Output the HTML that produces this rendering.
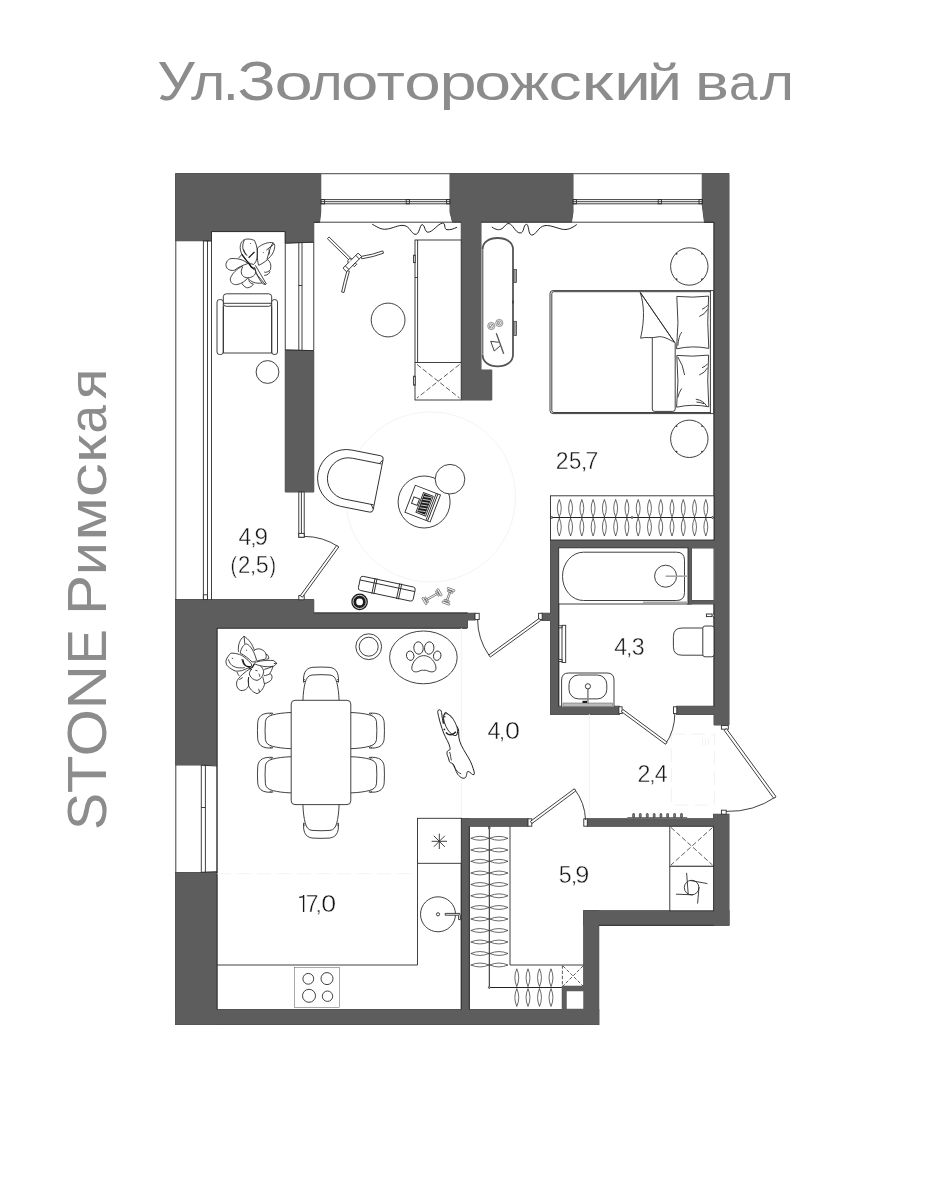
<!DOCTYPE html>
<html lang="ru"><head><meta charset="utf-8"><title>STONE Римская — Ул.Золоторожский вал</title>
<style>
html,body{margin:0;padding:0;background:#fff}
body{width:952px;height:1200px;overflow:hidden;font-family:"Liberation Sans",sans-serif}
svg{display:block}
.w{fill:#5d5d5d;stroke:none}
.ws{fill:#4a4a4a;stroke:#4a4a4a;stroke-width:1}
.wh{fill:#fff;stroke:none}
.l{fill:none;stroke:#2b2b2b;stroke-width:.9}
.lk{fill:none;stroke:#222;stroke-width:1}
.lt{fill:none;stroke:#555;stroke-width:.5}
.lw{fill:#fff;stroke:#2b2b2b;stroke-width:.9}
.lg{fill:none;stroke:#6a6a6a;stroke-width:1.1}
.ld{fill:none;stroke:#333;stroke-width:.8;stroke-dasharray:5 2.4}
.lf{fill:none;stroke:#f0f0f0;stroke-width:.8}
.lff{fill:none;stroke:#efefef;stroke-width:.8}
.lwh{fill:none;stroke:#fff;stroke-width:.7}
.blk{fill:#1c1c1c;stroke:none}
.ringw{fill:none;stroke:#fff;stroke-width:.8}
.dot{fill:#333;stroke:none}
.gl{fill:none;stroke:#a6a6a6;stroke-width:1.6}
.gl2{fill:none;stroke:#777;stroke-width:1.3}
.lk2{fill:none;stroke:#888;stroke-width:1.6}
.lkw{fill:#fff;stroke:#222;stroke-width:1}
.lfd{fill:none;stroke:#efefef;stroke-width:.8;stroke-dasharray:14 6}
.ld2{fill:none;stroke:#333;stroke-width:.8;stroke-dasharray:3.4 1.8}
.hook{fill:#888;stroke:#333;stroke-width:.7}
.pl{fill:none;stroke:#222;stroke-width:10}
.plk{fill:none;stroke:#111;stroke-width:14}
.lh{fill:none;stroke:#2a2a2a;stroke-width:.7}
.ls{fill:#fff;stroke:#3a3a3a;stroke-width:.55}
.cons{fill:none;stroke:#555;stroke-width:1.8}
.hnd{fill:#a0a0a0;stroke:#333;stroke-width:.7}
.cons2{fill:none;stroke:#555;stroke-width:1.3}
.lk3{fill:none;stroke:#222;stroke-width:1.5}
.gry{fill:#bdbdbd;stroke:#555;stroke-width:.5}
.num{font-family:"Liberation Sans",sans-serif;font-size:23.6px;fill:#161616;stroke:#fff;stroke-width:.42}
.one{fill:none;stroke:#161616;stroke-width:1.35}
.ttl{font-family:"Liberation Sans",sans-serif;font-size:55px;fill:#8c8c8c}
</style></head>
<body>
<svg width="952" height="1200" viewBox="0 0 952 1200">
<rect x="0" y="0" width="952" height="1200" fill="#fff"/>
<g id="walls">
<polygon class="ws" points="175.5,173.5 320.75,173.5 320.75,212 319.5,222.5 313.75,222.5 313.75,242 285.25,243 285.25,231.5 211.5,231.5 211.5,240.75 175.5,240.75"/>
<polygon class="ws" points="285.25,350 313.75,350.7 313.75,492 285.25,492"/>
<polygon class="ws" points="450,173.5 573,173.5 573,212 571.5,222 481,222 481,370 491.75,370 491.75,400 461.25,400 461.25,222 452.5,222 450,212"/>
<polygon class="ws" points="702.25,173.5 729,173.5 729,725 714,725 714,222.5 704.5,222.5 702.25,205"/>
<rect class="ws" x="713.5" y="814.25" width="15.5" height="110.75"/>
<polygon class="ws" points="175.5,599.5 313.75,599.5 313.75,613 467.5,613 467.5,628 217,628 217,765 175.5,765"/>
<rect class="ws" x="467" y="613.25" width="8" height="6.75"/>
<rect class="ws" x="175.5" y="872.5" width="41.5" height="152"/>
<rect class="ws" x="175.5" y="1009.5" width="423.25" height="15"/>
<rect class="ws" x="461.25" y="818.75" width="8" height="191.25"/>
<rect class="ws" x="461.25" y="818.75" width="66.75" height="7.5"/>
<rect class="ws" x="587.25" y="818.75" width="126.75" height="7.5"/>
<rect class="ws" x="583.75" y="910.75" width="145.25" height="14.5"/>
<rect class="ws" x="583.75" y="910.75" width="15" height="113.75"/>
<rect class="ws" x="562.25" y="986.25" width="21.75" height="23.75"/>
<rect class="ws" x="550.5" y="540" width="164" height="8"/>
<rect class="ws" x="550.5" y="540" width="8.25" height="174.5"/>
<rect class="ws" x="550.5" y="706.25" width="68.75" height="8.25"/>
<rect class="ws" x="676.75" y="706.25" width="37.75" height="8.25"/>
<rect class="ws" x="541.75" y="613.25" width="9.25" height="7.25"/>
<rect class="ws" x="688" y="548" width="3.5" height="56"/>
<rect class="ws" x="688" y="600.5" width="26.5" height="3.5"/>
<polygon class="w" points="175.5,173.5 320.75,173.5 320.75,212 319.5,222.5 313.75,222.5 313.75,242 285.25,243 285.25,231.5 211.5,231.5 211.5,240.75 175.5,240.75"/>
<polygon class="w" points="285.25,350 313.75,350.7 313.75,492 285.25,492"/>
<polygon class="w" points="450,173.5 573,173.5 573,212 571.5,222 481,222 481,370 491.75,370 491.75,400 461.25,400 461.25,222 452.5,222 450,212"/>
<polygon class="w" points="702.25,173.5 729,173.5 729,725 714,725 714,222.5 704.5,222.5 702.25,205"/>
<rect class="w" x="713.5" y="814.25" width="15.5" height="110.75"/>
<polygon class="w" points="175.5,599.5 313.75,599.5 313.75,613 467.5,613 467.5,628 217,628 217,765 175.5,765"/>
<rect class="w" x="467" y="613.25" width="8" height="6.75"/>
<rect class="w" x="175.5" y="872.5" width="41.5" height="152"/>
<rect class="w" x="175.5" y="1009.5" width="423.25" height="15"/>
<rect class="w" x="461.25" y="818.75" width="8" height="191.25"/>
<rect class="w" x="461.25" y="818.75" width="66.75" height="7.5"/>
<rect class="w" x="587.25" y="818.75" width="126.75" height="7.5"/>
<rect class="w" x="583.75" y="910.75" width="145.25" height="14.5"/>
<rect class="w" x="583.75" y="910.75" width="15" height="113.75"/>
<rect class="w" x="562.25" y="986.25" width="21.75" height="23.75"/>
<rect class="wh" x="566.75" y="991.25" width="16.5" height="17.5"/>
<rect class="w" x="550.5" y="540" width="164" height="8"/>
<rect class="w" x="550.5" y="540" width="8.25" height="174.5"/>
<rect class="w" x="550.5" y="706.25" width="68.75" height="8.25"/>
<rect class="w" x="676.75" y="706.25" width="37.75" height="8.25"/>
<rect class="w" x="541.75" y="613.25" width="9.25" height="7.25"/>
<rect class="w" x="688" y="548" width="3.5" height="56"/>
<rect class="w" x="688" y="600.5" width="26.5" height="3.5"/>
</g>
<g id="struct">
<path class="lg" d="M320.5 173.6H450M573 173.6H702.5"/>
<path class="l" d="M321 199.6H450"/>
<path class="l" d="M321 201.7H450"/>
<path class="l" d="M321 203.8H450"/>
<rect class="l" x="321" y="199.6" width="3.6" height="4.2"/>
<rect class="l" x="406.2" y="199.6" width="3.2" height="4.2"/>
<rect class="l" x="446.6" y="199.6" width="3.4" height="4.2"/>
<path class="l" d="M573 199.6H702.3"/>
<path class="l" d="M573 201.7H702.3"/>
<path class="l" d="M573 203.8H702.3"/>
<rect class="l" x="573" y="199.6" width="3.4" height="4.2"/>
<rect class="l" x="658.2" y="199.6" width="3.2" height="4.2"/>
<rect class="l" x="699" y="199.6" width="3.3" height="4.2"/>
<path class="l" d="M313.75 222.2H461.25M481 222.2H714"/>
<path class="l" d="M313.75 242V350"/>
<path class="l" d="M175.8 240.7V600"/>
<path class="l" d="M203.4 240.7V600M207.5 240.7V600M211.5 231.5V600"/>
<path class="l" d="M203.4 240.9H211.5"/>
<path class="l" d="M211.5 231.6H285.25V350"/>
<path class="l" d="M298.8 243V350M302 243V350M298.8 285.5H302"/>
<path class="l" d="M285.25 243.2L313.75 242.2M285.25 350L313.75 350.6"/>
<path class="l" d="M175.8 765V872.5M217 765V872.5"/>
<path class="l" d="M201.3 765V872.5M205.4 765V872.5M201.3 807.5H205.4"/>
<path class="l" d="M201.3 765.2L217 766M201.3 872.3L217 871.6"/>
<path class="l" d="M217 628V1009.5M217 628.2H467"/>
<path class="l" d="M313.75 613H467.5"/>
<path class="l" d="M714 222V540"/>
</g>
<g id="living-top">
<g transform="translate(215 230) scale(0.08403)">
<path class="pl" d="M420 400C350 350 300 280 300 210C300 150 330 110 380 108C420 105 450 115 470 125C500 180 512 260 500 330C495 370 475 395 460 410Z"/>
<path class="pl" d="M350 120C318 180 322 250 380 305"/>
<path class="pl" d="M505 215C560 165 640 140 690 152C720 165 715 220 690 270C660 330 590 390 520 420C505 380 500 300 505 215Z"/>
<path class="pl" d="M690 152C655 200 640 280 618 350"/>
<path class="pl" d="M625 355C660 370 672 420 660 470C640 500 600 510 585 500"/>
<path class="pl" d="M585 540C620 540 650 520 655 490"/>
<path class="pl" d="M390 400C340 350 260 335 190 340C140 355 120 400 135 440C150 480 200 485 230 480C280 440 330 420 390 400Z"/>
<path class="pl" d="M330 430C260 460 200 520 182 580C180 630 220 655 260 650C320 640 370 600 390 570"/>
<path class="pl" d="M330 440C300 490 310 540 350 560C400 580 460 560 480 520C490 480 470 450 440 440"/>
<path class="pl" d="M320 635C340 670 370 690 390 688C420 685 450 660 460 640"/>
<path class="pl" d="M400 575C400 610 420 640 450 640"/>
<path class="pl" d="M410 590C440 630 520 640 560 630"/>
<path class="pl" d="M480 420L610 640C600 655 580 650 560 630C520 580 490 520 470 440"/>
<path class="pl" d="M490 520L600 650"/>
<path class="pl" d="M280 335L320 290M610 240L700 170M575 265L580 275M420 155L425 165"/>
<path class="pl" d="M340 230C350 260 365 285 380 300M640 230C650 255 650 275 640 295"/>
<path class="plk" d="M320 290L440 450"/>
<path class="plk" d="M400 330L470 262"/>
<path class="plk" d="M410 400L430 440L470 470"/>
</g>
<rect class="lw" x="223.3" y="293.8" width="48.4" height="12.5" rx="3"/>
<rect class="lw" x="217" y="299.6" width="6.3" height="54.9" rx="2.5"/>
<rect class="lw" x="271.7" y="299.6" width="5.8" height="54.9" rx="2.5"/>
<path class="l" d="M223.3 303.3H271.7M223.3 306.3V353H271.7V306.3"/>
<circle class="lw" cx="267.5" cy="372" r="11.4"/>
<path class="lw" d="M352.241 259.744L329.041 236.944L327.359 238.656L350.559 261.456Z"/>
<path class="lw" d="M361.2 256.4Q373 254.6 382.8 250.9L383.5 253.2Q373.6 257 361.8 258.8Z"/>
<path class="lw" d="M347 270.6Q343.8 282 341.6 292L344 292.5Q346.2 282.6 349.4 271.2Z"/>
<g transform="translate(352.3 262.4) rotate(-45)">
<rect class="lw" x="-10.7" y="-2.5" width="21.4" height="5"/>
<path class="l" d="M-7.4 -2.5V2.5M7.4 -2.5V2.5"/>
<rect class="lw" x="-1.6" y="2.5" width="3.4" height="1.9"/>
<path class="lw" d="M-3.4 -2.5L-1.8 -4.6L0.6 -4.6L2 -2.5"/>
</g>
<circle class="lw" cx="388.1" cy="320" r="16.9"/>
<rect class="lw" x="415" y="240" width="46.2" height="160"/>
<path class="l" d="M417.6 240V362.5M415 362.5H461.2"/>
<path class="ld" d="M417 364.5L459.5 398M459.5 364.5L417 398"/>
<rect class="lw" x="413.6" y="255.2" width="1.6" height="7.4"/>
<rect class="lw" x="413.6" y="376.2" width="1.6" height="9"/>
<path class="l" d="M415 277.5H417.6"/>
<path class="lk" d="M372.2 224.2C378 227.5 381 229.6 386 229.2C393 228.6 398 224.6 404.1 225.5C410 226.4 411 233.5 415 234.3C419.6 235.2 419.5 225 422 224.7C425 224.4 424.5 232 427.8 232.2C432.5 232.5 438 223.6 442.5 223.1C446 222.8 443.5 229.2 447 229.7C450.5 230.2 454 228.6 457.1 227.2"/>
<path class="lk" d="M491.8 227C496 229.8 499 230.6 502 228.6C505 226.6 506 223.2 509 223.6C513 224.2 515 232.5 520 233C524.5 233.4 523 224.6 526.5 224.3C529 224.1 528 234.5 531.5 235C536 235.6 538 226.5 545 225.6C552 224.8 560 230 566 229.5C570.5 229.1 574 226.5 576.8 224.5"/>
<path class="wh" d="M482.6 354.7C482.6 362 489 366.3 497.6 366.3C506 366.3 513 362 513 354.7V249.3C513 242 506 238 497.6 238C489 238 482.6 242 482.6 249.3Z"/>
<path class="cons" d="M482.6 354.7C482.6 362 489 366.3 497.6 366.3C506 366.3 513 362 513 354.7V249.3C513 242 506 238 497.6 238C489 238 482.6 242 482.6 249.3"/>
<path class="l" d="M482.8 249.3V354.7"/>
<rect class="hnd" x="513.8" y="269.4" width="2.7" height="13.2"/>
<rect class="hnd" x="513.8" y="321.3" width="2.7" height="14.3"/>
<path class="lk" d="M513 300.6V303.4"/>
<circle class="ls" cx="491.3" cy="326" r="3.6"/>
<circle class="ls" cx="491.3" cy="326" r="2.1"/>
<path class="lh" d="M490 327.4L492.6 324.6"/>
<circle class="ls" cx="499.3" cy="323" r="3.6"/>
<circle class="ls" cx="499.3" cy="323" r="2.1"/>
<path class="lh" d="M498.4 321.6Q500.6 323 498.4 324.4"/>
<path class="cons2" d="M496.3 333.3L503.7 353.7"/>
<path class="l" d="M490.7 341.3L498.7 342.3M490.7 341.3L494.3 351L500.4 345.6"/>
</g>
<g id="bedroom">
<circle class="lw" cx="689.3" cy="266.5" r="18.7"/>
<circle class="dot" cx="676.572" cy="253.772" r="0.9"/>
<circle class="dot" cx="702.028" cy="253.772" r="0.9"/>
<circle class="dot" cx="702.028" cy="279.228" r="0.9"/>
<circle class="dot" cx="676.572" cy="279.228" r="0.9"/>
<circle class="lw" cx="689.3" cy="438.8" r="18.7"/>
<circle class="dot" cx="676.572" cy="426.072" r="0.9"/>
<circle class="dot" cx="702.028" cy="426.072" r="0.9"/>
<circle class="dot" cx="702.028" cy="451.528" r="0.9"/>
<circle class="dot" cx="676.572" cy="451.528" r="0.9"/>
<path class="lw" d="M713.6 290.6H553Q550 290.6 550 293.6V410.6Q550 413.6 553 413.6H713.6Z"/>
<path class="l" d="M710.4 291.7H553.8Q551.8 291.7 551.8 293.7V410.5Q551.8 412.5 553.8 412.5H710.4"/>
<path class="l" d="M710.4 290.6V413.6"/>
<path class="lw" d="M640.3 292.5C644 305 645 318 640.6 338.2C646 336.5 652 338.6 657 337C663 335.5 669 339.5 674.6 342.4Z"/>
<path class="l" d="M640.3 292.5L674.6 342.4"/>
<path class="l" d="M652.3 338V409Q652.3 411.4 654.7 411.4H672.8Q675.2 411.4 675.2 409V342.6"/>
<path class="lw" d="M676.8 296.4Q692.7 298 708.6 296.1Q706.8 322.4 708.8 348.4Q692.7 345.2 676.6 348.8Q679.2 322.4 676.8 296.4Z"/>
<path class="l" d="M707.6 305.2Q705.6 308 702 309.2M707.6 309.2Q705 314.4 699.2 316.5M681.7 332.2Q678.6 336 677.8 345.7"/>
<path class="lw" d="M676.8 355.4Q692.7 357 708.6 355.1Q706.8 381.1 708.8 406.8Q692.7 403.6 676.6 407.2Q679.2 381.1 676.8 355.4Z"/>
<path class="l" d="M677.8 357Q683.2 365 684.6 375M707.6 363.7Q705.6 366.5 702 367.7M707.6 367.7Q705 372.9 699.2 375M681.7 388.5Q678.8 392.5 677.8 397.5M695.8 399.2Q703.4 400.4 706.5 405.9M696.4 402Q700.6 402.4 704.2 403.7"/>
<rect class="lw" x="550.5" y="495.8" width="163.5" height="44.2"/>
<path class="lk" d="M550.5 517.5H714"/>
<path class="lh" d="M559.3 499.5Q555.4 508.5 559.3 516.8Q563.2 508.5 559.3 499.5Z"/>
<path class="lh" d="M559.3 518.2Q555.4 527 559.3 536Q563.2 527 559.3 518.2Z"/>
<path class="lh" d="M570.57 499.5Q566.67 508.5 570.57 516.8Q574.47 508.5 570.57 499.5Z"/>
<path class="lh" d="M570.57 518.2Q566.67 527 570.57 536Q574.47 527 570.57 518.2Z"/>
<path class="lh" d="M581.84 499.5Q577.94 508.5 581.84 516.8Q585.74 508.5 581.84 499.5Z"/>
<path class="lh" d="M581.84 518.2Q577.94 527 581.84 536Q585.74 527 581.84 518.2Z"/>
<path class="lh" d="M593.11 499.5Q589.21 508.5 593.11 516.8Q597.01 508.5 593.11 499.5Z"/>
<path class="lh" d="M593.11 518.2Q589.21 527 593.11 536Q597.01 527 593.11 518.2Z"/>
<path class="lh" d="M604.38 499.5Q600.48 508.5 604.38 516.8Q608.28 508.5 604.38 499.5Z"/>
<path class="lh" d="M604.38 518.2Q600.48 527 604.38 536Q608.28 527 604.38 518.2Z"/>
<path class="lh" d="M615.65 499.5Q611.75 508.5 615.65 516.8Q619.55 508.5 615.65 499.5Z"/>
<path class="lh" d="M615.65 518.2Q611.75 527 615.65 536Q619.55 527 615.65 518.2Z"/>
<path class="lh" d="M626.92 499.5Q623.02 508.5 626.92 516.8Q630.82 508.5 626.92 499.5Z"/>
<path class="lh" d="M626.92 518.2Q623.02 527 626.92 536Q630.82 527 626.92 518.2Z"/>
<path class="lh" d="M638.19 499.5Q634.29 508.5 638.19 516.8Q642.09 508.5 638.19 499.5Z"/>
<path class="lh" d="M638.19 518.2Q634.29 527 638.19 536Q642.09 527 638.19 518.2Z"/>
<path class="lh" d="M649.46 499.5Q645.56 508.5 649.46 516.8Q653.36 508.5 649.46 499.5Z"/>
<path class="lh" d="M649.46 518.2Q645.56 527 649.46 536Q653.36 527 649.46 518.2Z"/>
<path class="lh" d="M660.73 499.5Q656.83 508.5 660.73 516.8Q664.63 508.5 660.73 499.5Z"/>
<path class="lh" d="M660.73 518.2Q656.83 527 660.73 536Q664.63 527 660.73 518.2Z"/>
<path class="lh" d="M672 499.5Q668.1 508.5 672 516.8Q675.9 508.5 672 499.5Z"/>
<path class="lh" d="M672 518.2Q668.1 527 672 536Q675.9 527 672 518.2Z"/>
<path class="lh" d="M683.27 499.5Q679.37 508.5 683.27 516.8Q687.17 508.5 683.27 499.5Z"/>
<path class="lh" d="M683.27 518.2Q679.37 527 683.27 536Q687.17 527 683.27 518.2Z"/>
<path class="lh" d="M694.54 499.5Q690.64 508.5 694.54 516.8Q698.44 508.5 694.54 499.5Z"/>
<path class="lh" d="M694.54 518.2Q690.64 527 694.54 536Q698.44 527 694.54 518.2Z"/>
<path class="lh" d="M705.81 499.5Q701.91 508.5 705.81 516.8Q709.71 508.5 705.81 499.5Z"/>
<path class="lh" d="M705.81 518.2Q701.91 527 705.81 536Q709.71 527 705.81 518.2Z"/>
<circle class="lw" cx="551.8" cy="517.5" r="0.9"/>
<circle class="lw" cx="632" cy="517.5" r="0.9"/>
<circle class="lw" cx="712.6" cy="517.5" r="0.9"/>
</g>
<g id="living-bottom">
<circle class="lf" cx="430.5" cy="497" r="85"/>
<g transform="translate(349.2 478.8) rotate(11.2)">
<path class="lw" d="M-3 -28.7H26.5Q29.5 -28.7 29.5 -25.7V25.7Q29.5 28.7 26.5 28.7H-3A28.7 28.7 0 0 1 -3 -28.7Z"/>
<path class="l" d="M29 -20.8H-1A20.8 20.8 0 0 0 -1 20.8H29"/>
<path class="l" d="M29.5 -25L26.5 -20.8M29.5 25L26.5 20.8"/>
</g>
<circle class="lw" cx="424.1" cy="502" r="26"/>
<circle class="lw" cx="450" cy="479.2" r="14.8"/>
<g transform="translate(422.7 503.6) rotate(21)">
<rect class="lw" x="-13.5" y="-14.5" width="27" height="29"/>
<path class="l" d="M9 -14.5V14.5M10.8 -14.5V14.5"/>
<rect class="lw" x="-3.2" y="-10.6" width="10.4" height="21.2"/>
<rect class="blk" x="-2.2" y="-9.6" width="8.4" height="19.2"/>
<path class="lwh" d="M-1.5 -7L5.5 -8.5M-1.5 -4L5.5 -5.5M-1.5 -1L5.5 -2.5M-1.5 2L5.5 0.5M-1.5 5L5.5 3.5M-1.5 8L5.5 6.5"/>
<rect class="lw" x="-10.6" y="-3.2" width="6" height="6.8"/>
</g>
<g transform="translate(386.8 588.7) rotate(12)">
<rect class="lw" x="-28" y="-7.2" width="56" height="14.4" rx="2.5"/>
<path class="l" d="M-28 -3H28"/>
<path class="l" d="M-13.6 -8V8M-11.6 -8V8M11.6 -8V8M13.6 -8V8"/>
</g>
<circle class="blk" cx="359.6" cy="601.9" r="8.3"/>
<circle class="ringw" cx="359.6" cy="601.9" r="6.6"/>
<circle class="wh" cx="359.6" cy="601.9" r="3.4"/>
<g transform="translate(424.6 601) rotate(-30.4486)">
<rect class="ls" x="0" y="-0.8" width="17.1677" height="1.6"/>
<rect class="ls" x="-1" y="-4" width="1.8" height="8" rx="0.6"/>
<rect class="ls" x="1.6" y="-3" width="1.4" height="6" rx="0.5"/>
<rect class="ls" x="16.3677" y="-4" width="1.8" height="8" rx="0.6"/>
<rect class="ls" x="14.1677" y="-3" width="1.4" height="6" rx="0.5"/>
</g>
<g transform="translate(446 603) rotate(-69.5377)">
<rect class="ls" x="0" y="-0.8" width="14.3024" height="1.6"/>
<rect class="ls" x="-1" y="-4" width="1.8" height="8" rx="0.6"/>
<rect class="ls" x="1.6" y="-3" width="1.4" height="6" rx="0.5"/>
<rect class="ls" x="13.5024" y="-4" width="1.8" height="8" rx="0.6"/>
<rect class="ls" x="11.3024" y="-3" width="1.4" height="6" rx="0.5"/>
</g>
</g>
<g id="bath">
<rect class="lw" x="558.7" y="547.8" width="129.3" height="56.2"/>
<path class="lw" d="M583.5 552.2H676.5Q684.5 552.2 684.5 560.2V592.5Q684.5 600.5 676.5 600.5H583.5A21 24.15 0 0 1 583.5 552.2Z"/>
<circle class="lw" cx="665.6" cy="576.2" r="11"/>
<path class="gl" d="M665.6 576.2H688"/>
<path class="gl" d="M643 602.3H688"/>
<path class="l" d="M558.7 604V706.5M714 604V706.5"/>
<rect class="lw" x="562" y="625.3" width="3.7" height="37.2"/>
<rect class="lw" x="558.7" y="625.8" width="3.3" height="2"/>
<rect class="lw" x="558.7" y="659.6" width="3.3" height="2"/>
<path class="lw" d="M703.4 628H682Q673.4 628 673.4 636.5V646.7Q673.4 655.2 682 655.2H703.4Z"/>
<rect class="lw" x="702.8" y="626" width="11.2" height="30.8" rx="2.2"/>
<rect class="lw" x="706.4" y="614" width="5.6" height="2.6"/>
<path class="lw" d="M714 612.6Q711.8 615.3 714 618.6"/>
<path class="lw" d="M561.6 706.6V680Q561.6 673 568.6 673H607Q614 673 614 680V706.6"/>
<rect class="lw" x="569" y="675" width="37.8" height="23.9" rx="9.5"/>
<rect class="gry" x="563" y="703" width="49.5" height="3.2"/>
<path class="lk2" d="M587.9 688V703.6"/>
<circle class="lw" cx="587.9" cy="686.3" r="2.6"/>
<rect class="blk" x="582.5" y="700.8" width="4.5" height="2.2"/>
</g>
<g id="kitchen">
<path class="lff" d="M461.3 628V818"/>
<path class="lff" d="M589.3 714V818"/>
<path class="lfd" d="M217 873.7H417.5"/>
<g transform="translate(215 630) scale(0.08403)">
<path class="pl" d="M280 260C270 180 295 110 345 75C400 105 450 175 470 250"/>
<path class="pl" d="M345 75C350 105 352 135 355 165"/>
<path class="pl" d="M300 275C310 215 340 170 375 165C420 180 465 250 495 360C480 375 460 380 440 380C400 340 350 300 300 275Z"/>
<path class="pl" d="M470 240C510 210 570 225 600 270C615 300 610 330 600 348C570 350 530 360 500 370"/>
<path class="pl" d="M605 290C625 285 640 310 640 340L612 350"/>
<path class="pl" d="M470 388C520 370 600 355 700 365L735 395C720 420 700 430 690 432C640 440 560 442 470 402"/>
<path class="pl" d="M735 395L700 400"/>
<path class="pl" d="M190 275C160 300 135 340 130 370C130 400 140 420 150 430C180 460 220 480 250 490C280 490 310 485 330 480C380 460 420 440 440 420C430 395 400 365 380 350C350 320 320 300 290 290C260 280 225 275 190 275Z"/>
<path class="pl" d="M160 350C170 390 190 410 200 420C230 440 260 450 290 450C320 452 340 450 355 448"/>
<path class="pl" d="M420 460C390 480 355 500 330 525C290 565 265 590 258 620C250 660 265 700 300 718C330 725 360 715 375 700C395 685 400 665 400 640C395 610 395 585 400 560"/>
<path class="pl" d="M400 560C395 600 395 630 400 660C415 700 440 735 500 758C540 745 575 700 590 650C580 610 575 585 570 560"/>
<path class="pl" d="M430 470C410 500 405 520 412 535C425 570 460 595 500 600C540 590 570 555 580 500C575 465 560 440 540 430"/>
<path class="pl" d="M580 545C610 540 640 530 660 520C680 540 685 560 672 590C655 615 620 630 585 640"/>
<path class="pl" d="M585 470C620 460 660 445 690 432C680 470 665 500 650 520"/>
<path class="pl" d="M320 345C325 380 340 410 355 425"/>
<path class="pl" d="M262 500C270 520 280 540 290 548M290 590L330 565M520 700L530 740M200 335L215 340M370 240L382 243M480 480L505 485M520 520C530 530 535 540 530 555"/>
<path class="plk" d="M330 350C335 385 345 410 370 430"/>
<path class="plk" d="M370 430L445 445L470 400"/>
<path class="plk" d="M400 450L440 470"/>
</g>
<circle class="lw" cx="368.7" cy="646.7" r="12.9"/>
<circle class="l" cx="368.7" cy="646.7" r="9.5"/>
<ellipse class="lw" cx="423.4" cy="657.4" rx="33.8" ry="26.4"/>
<ellipse class="l" cx="410.2" cy="655.7" rx="3.7" ry="4.7" transform="rotate(-12 410.2 655.7)"/>
<ellipse class="l" cx="437.2" cy="655.7" rx="3.7" ry="4.7" transform="rotate(12 437.2 655.7)"/>
<ellipse class="l" cx="418.5" cy="648" rx="4.7" ry="6.2" transform="rotate(-5 418.5 648)"/>
<ellipse class="l" cx="429.2" cy="648" rx="4.7" ry="6.2" transform="rotate(5 429.2 648)"/>
<path class="l" d="M423.8 655.6C430.5 655.6 435.8 662.5 436 668C436.1 671.6 432.5 672.4 429.8 671.6C427 670.8 425.5 669.6 423.8 670.4C422 669.6 420.5 670.8 417.8 671.6C415.2 672.4 411.6 671.6 411.8 668C412 662.5 417.2 655.6 423.8 655.6Z"/>
<path class="lkw" d="M438.3 710.2C439.8 709 441.4 710.2 441.6 712.5C442 716.5 442.6 720 443.3 723.5C443.6 720 443.2 715 445 712.6C447 712 448.6 714.6 449.6 717.4C450.6 720.4 452.8 722.6 455.3 724.8C458.4 727 458.9 730.5 458.7 734C458.4 739 460.6 744.6 463.6 749.6C467 755.6 470.6 760.6 472.2 765.6C473.4 769.6 475.2 773.4 474 774.6C472.2 775.4 470.6 772 468.2 771.4C466.4 771.2 467.2 775.2 465.6 777.4C463.6 779.4 460.2 777.6 457.8 774.4C455 770.6 455.2 765.6 452.6 763.6C451 762.4 449.6 763.4 449 760C448.4 756.4 446 754.4 447.2 751.6C448.4 749.2 450.4 751.6 450 747.6C449.2 743 445.6 738 443.6 733C441.4 727 439.6 721 438.6 716.4C438 713.6 437.2 711.2 438.3 710.2Z"/>
<path class="l" d="M452.6 763.6C454.6 768 457 772.4 461.2 773.8M449.6 752C450.8 755 450.6 758 451.4 760.4"/>
<ellipse class="lw" cx="450.6" cy="724.6" rx="12" ry="5" transform="rotate(63 450.6 724.6)"/>
<path class="lk3" d="M445.9 732.4Q450.6 737.6 456 731.8"/>
<circle class="dot" cx="444.8" cy="716.8" r="0.8"/>
<circle class="dot" cx="444.4" cy="729.4" r="0.9"/>
<g transform="translate(321 667) rotate(0)">
<path class="lw" d="M-18.1 33.8C-17.8 26 -17 20 -15.75 15.3C-14.5 11 -13 8.6 -9 8Q0 7.3 9 8C13 8.6 14.5 11 15.75 15.3C17 20 17.8 26 18.1 33.8"/>
<path class="l" d="M-17.4 15.3C-17.8 11 -17.2 6 -15 3.5C-13 1.3 -10.5 0.5 -8 0.3Q0 -0.2 8 0.3C10.5 0.5 13 1.3 15 3.5C17.2 6 17.8 11 17.4 15.3"/>
<path class="l" d="M-17.4 15.3L-15.9 14M17.4 15.3L15.9 14M-17.6 13.4L-16.2 12.4M17.6 13.4L16.2 12.4"/>
</g>
<g transform="translate(321 838.4) rotate(180)">
<path class="lw" d="M-18.1 33.8C-17.8 26 -17 20 -15.75 15.3C-14.5 11 -13 8.6 -9 8Q0 7.3 9 8C13 8.6 14.5 11 15.75 15.3C17 20 17.8 26 18.1 33.8"/>
<path class="l" d="M-17.4 15.3C-17.8 11 -17.2 6 -15 3.5C-13 1.3 -10.5 0.5 -8 0.3Q0 -0.2 8 0.3C10.5 0.5 13 1.3 15 3.5C17.2 6 17.8 11 17.4 15.3"/>
<path class="l" d="M-17.4 15.3L-15.9 14M17.4 15.3L15.9 14M-17.6 13.4L-16.2 12.4M17.6 13.4L16.2 12.4"/>
</g>
<g transform="translate(257.4 730.6) rotate(-90)">
<path class="lw" d="M-18.1 33.8C-17.8 26 -17 20 -15.75 15.3C-14.5 11 -13 8.6 -9 8Q0 7.3 9 8C13 8.6 14.5 11 15.75 15.3C17 20 17.8 26 18.1 33.8"/>
<path class="l" d="M-17.4 15.3C-17.8 11 -17.2 6 -15 3.5C-13 1.3 -10.5 0.5 -8 0.3Q0 -0.2 8 0.3C10.5 0.5 13 1.3 15 3.5C17.2 6 17.8 11 17.4 15.3"/>
<path class="l" d="M-17.4 15.3L-15.9 14M17.4 15.3L15.9 14M-17.6 13.4L-16.2 12.4M17.6 13.4L16.2 12.4"/>
</g>
<g transform="translate(257.4 774.8) rotate(-90)">
<path class="lw" d="M-18.1 33.8C-17.8 26 -17 20 -15.75 15.3C-14.5 11 -13 8.6 -9 8Q0 7.3 9 8C13 8.6 14.5 11 15.75 15.3C17 20 17.8 26 18.1 33.8"/>
<path class="l" d="M-17.4 15.3C-17.8 11 -17.2 6 -15 3.5C-13 1.3 -10.5 0.5 -8 0.3Q0 -0.2 8 0.3C10.5 0.5 13 1.3 15 3.5C17.2 6 17.8 11 17.4 15.3"/>
<path class="l" d="M-17.4 15.3L-15.9 14M17.4 15.3L15.9 14M-17.6 13.4L-16.2 12.4M17.6 13.4L16.2 12.4"/>
</g>
<g transform="translate(384.5 730.6) rotate(90)">
<path class="lw" d="M-18.1 33.8C-17.8 26 -17 20 -15.75 15.3C-14.5 11 -13 8.6 -9 8Q0 7.3 9 8C13 8.6 14.5 11 15.75 15.3C17 20 17.8 26 18.1 33.8"/>
<path class="l" d="M-17.4 15.3C-17.8 11 -17.2 6 -15 3.5C-13 1.3 -10.5 0.5 -8 0.3Q0 -0.2 8 0.3C10.5 0.5 13 1.3 15 3.5C17.2 6 17.8 11 17.4 15.3"/>
<path class="l" d="M-17.4 15.3L-15.9 14M17.4 15.3L15.9 14M-17.6 13.4L-16.2 12.4M17.6 13.4L16.2 12.4"/>
</g>
<g transform="translate(384.5 774.8) rotate(90)">
<path class="lw" d="M-18.1 33.8C-17.8 26 -17 20 -15.75 15.3C-14.5 11 -13 8.6 -9 8Q0 7.3 9 8C13 8.6 14.5 11 15.75 15.3C17 20 17.8 26 18.1 33.8"/>
<path class="l" d="M-17.4 15.3C-17.8 11 -17.2 6 -15 3.5C-13 1.3 -10.5 0.5 -8 0.3Q0 -0.2 8 0.3C10.5 0.5 13 1.3 15 3.5C17.2 6 17.8 11 17.4 15.3"/>
<path class="l" d="M-17.4 15.3L-15.9 14M17.4 15.3L15.9 14M-17.6 13.4L-16.2 12.4M17.6 13.4L16.2 12.4"/>
</g>
<rect class="lw" x="291.2" y="700.3" width="59.6" height="104.3" rx="3.8"/>
<rect class="lw" x="417.5" y="818.3" width="43.8" height="45"/>
<path class="l" d="M439.3 833.6V849M431.6 841.3H447M433.8 835.8L444.8 846.8M444.8 835.8L433.8 846.8"/>
<path class="l" d="M417.5 863.3V965H217"/>
<path class="l" d="M461.3 863.3V1009.5"/>
<circle class="lw" cx="438" cy="914.3" r="17.5"/>
<circle class="l" cx="438" cy="914.3" r="1.6"/>
<path class="lw" d="M445.2 913.4H459.8V915.2H445.2Z"/>
<path class="lw" d="M458.6 915.2V919.6H460.4V915.2"/>
<rect class="lt" x="294.6" y="967.6" width="44.8" height="39.8"/>
<circle class="l" cx="308.3" cy="978.8" r="5.4"/>
<circle class="l" cx="327" cy="978.6" r="6"/>
<circle class="l" cx="309" cy="995.8" r="6.5"/>
<circle class="l" cx="327.5" cy="996.2" r="5.2"/>
</g>
<g id="closet">
<path class="l" d="M469.3 826.3V1009.5M598.8 925.3H714"/>
<path class="lk" d="M489.3 826.3V987.5H561.8"/>
<circle class="lw" cx="489.3" cy="828" r="0.9"/>
<circle class="lw" cx="489.3" cy="987.5" r="0.9"/>
<path class="lh" d="M470.8 838.3Q480 834.4 489 838.3Q480 842.2 470.8 838.3Z"/>
<path class="lh" d="M489.8 838.3Q499 834.4 508 838.3Q499 842.2 489.8 838.3Z"/>
<path class="lh" d="M470.8 850Q480 846.1 489 850Q480 853.9 470.8 850Z"/>
<path class="lh" d="M489.8 850Q499 846.1 508 850Q499 853.9 489.8 850Z"/>
<path class="lh" d="M470.8 861.3Q480 857.4 489 861.3Q480 865.2 470.8 861.3Z"/>
<path class="lh" d="M489.8 861.3Q499 857.4 508 861.3Q499 865.2 489.8 861.3Z"/>
<path class="lh" d="M470.8 873Q480 869.1 489 873Q480 876.9 470.8 873Z"/>
<path class="lh" d="M489.8 873Q499 869.1 508 873Q499 876.9 489.8 873Z"/>
<path class="lh" d="M470.8 884.5Q480 880.6 489 884.5Q480 888.4 470.8 884.5Z"/>
<path class="lh" d="M489.8 884.5Q499 880.6 508 884.5Q499 888.4 489.8 884.5Z"/>
<path class="lh" d="M470.8 895.8Q480 891.9 489 895.8Q480 899.7 470.8 895.8Z"/>
<path class="lh" d="M489.8 895.8Q499 891.9 508 895.8Q499 899.7 489.8 895.8Z"/>
<path class="lh" d="M470.8 907.5Q480 903.6 489 907.5Q480 911.4 470.8 907.5Z"/>
<path class="lh" d="M489.8 907.5Q499 903.6 508 907.5Q499 911.4 489.8 907.5Z"/>
<path class="lh" d="M470.8 919Q480 915.1 489 919Q480 922.9 470.8 919Z"/>
<path class="lh" d="M489.8 919Q499 915.1 508 919Q499 922.9 489.8 919Z"/>
<path class="lh" d="M470.8 930.5Q480 926.6 489 930.5Q480 934.4 470.8 930.5Z"/>
<path class="lh" d="M489.8 930.5Q499 926.6 508 930.5Q499 934.4 489.8 930.5Z"/>
<path class="lh" d="M470.8 942Q480 938.1 489 942Q480 945.9 470.8 942Z"/>
<path class="lh" d="M489.8 942Q499 938.1 508 942Q499 945.9 489.8 942Z"/>
<path class="lh" d="M470.8 953.5Q480 949.6 489 953.5Q480 957.4 470.8 953.5Z"/>
<path class="lh" d="M489.8 953.5Q499 949.6 508 953.5Q499 957.4 489.8 953.5Z"/>
<path class="lh" d="M470.8 965Q480 961.1 489 965Q480 968.9 470.8 965Z"/>
<path class="lh" d="M489.8 965Q499 961.1 508 965Q499 968.9 489.8 965Z"/>
<path class="l" d="M510 826.3V965H583.5"/>
<path class="lh" d="M516.8 968.8Q512.9 977.5 516.8 986.6Q520.7 977.5 516.8 968.8Z"/>
<path class="lh" d="M516.8 988.6Q512.9 997.5 516.8 1006.4Q520.7 997.5 516.8 988.6Z"/>
<path class="lh" d="M528 968.8Q524.1 977.5 528 986.6Q531.9 977.5 528 968.8Z"/>
<path class="lh" d="M528 988.6Q524.1 997.5 528 1006.4Q531.9 997.5 528 988.6Z"/>
<path class="lh" d="M539.5 968.8Q535.6 977.5 539.5 986.6Q543.4 977.5 539.5 968.8Z"/>
<path class="lh" d="M539.5 988.6Q535.6 997.5 539.5 1006.4Q543.4 997.5 539.5 988.6Z"/>
<path class="lh" d="M551 968.8Q547.1 977.5 551 986.6Q554.9 977.5 551 968.8Z"/>
<path class="lh" d="M551 988.6Q547.1 997.5 551 1006.4Q554.9 997.5 551 988.6Z"/>
<path class="ld2" d="M562.4 965.4V986.2"/>
<path class="ld2" d="M563 966L583 986M583 966L563 986"/>
<rect class="lw" x="669.8" y="826.3" width="43.8" height="40"/>
<path class="ld" d="M671 827.5L712.5 865M712.5 827.5L671 865"/>
<rect class="lw" x="669.8" y="866.3" width="43.8" height="44.5"/>
<circle class="l" cx="691.6" cy="887.6" r="7.3"/>
<path class="l" d="M686.6 872.8L688.2 894M707.4 883.6L690 880.4M697.6 903.6L699 887M676 894.2L693 894.8"/>
<path class="gl2" d="M627.3 817.7H687.2"/>
<rect class="hook" x="632.7" y="813.6" width="1.8" height="3.8" rx="0.4"/>
<rect class="hook" x="639.4" y="813.6" width="1.8" height="3.8" rx="0.4"/>
<rect class="hook" x="646.4" y="813.6" width="1.8" height="3.8" rx="0.4"/>
<rect class="hook" x="653.3" y="813.6" width="1.8" height="3.8" rx="0.4"/>
<rect class="hook" x="660" y="813.6" width="1.8" height="3.8" rx="0.4"/>
<rect class="hook" x="666.7" y="813.6" width="1.8" height="3.8" rx="0.4"/>
<rect class="hook" x="673.7" y="813.6" width="1.8" height="3.8" rx="0.4"/>
<rect class="hook" x="680.6" y="813.6" width="1.8" height="3.8" rx="0.4"/>
<rect class="lfd" x="671.4" y="734.1" width="43" height="71"/>
<path class="lff" d="M702.5 738.5V745.5M708.5 738.5V745.5M705.5 738.5V745.5"/>
</g>
<g id="doors">
<rect class="lw" x="298.8" y="492" width="5.4" height="45.2"/>
<path class="l" d="M301.4 492V533.4"/>
<rect class="lw" x="298.8" y="533.4" width="5.4" height="3.8"/>
<rect class="lw" x="298.8" y="595.6" width="5.4" height="4.2"/>
<rect class="lw" x="203.4" y="594.8" width="4.1" height="4.8"/>
<path class="l" d="M304.2 536.4A62 62 0 0 1 338.8 547"/>
<path class="lw" d="M302.4 597.2L338.8 547L336.695 545.474L300.295 595.674Z"/>
<rect class="lw" x="475" y="613.3" width="4.2" height="6.3"/>
<rect class="lw" x="538.6" y="613.3" width="3.6" height="6.3"/>
<path class="l" d="M477.6 619.6A63 63 0 0 0 488.8 655"/>
<path class="lw" d="M539.2 618.4L488.8 655L490.328 657.104L540.728 620.504Z"/>
<rect class="lw" x="618.9" y="706.8" width="3.2" height="6.8"/>
<rect class="lw" x="673.5" y="706.8" width="3.3" height="6.8"/>
<path class="l" d="M674.8 713.6A54.6 54.6 0 0 1 665.5 744.2"/>
<path class="lw" d="M621.4 711.6L665.5 744.2L667.046 742.109L622.946 709.509Z"/>
<rect class="lw" x="528" y="818.8" width="3.8" height="7.4"/>
<rect class="lw" x="583.8" y="818.8" width="3.5" height="7.4"/>
<path class="l" d="M574.3 788.8A54.8 54.8 0 0 1 585.6 820"/>
<path class="lw" d="M530.4 821.4L574.3 788.8L575.85 790.887L531.95 823.487Z"/>
<rect class="lw" x="721.4" y="725.6" width="6.9" height="3.6"/>
<rect class="lw" x="721.4" y="810.2" width="4.8" height="4"/>
<path class="l" d="M776 796.7A84.5 84.5 0 0 1 726.2 811.4"/>
<path class="lw" d="M726.4 728.6L776 796.7L773.737 798.348L724.137 730.248Z"/>
</g>
<g id="text" opacity="0.999">
<text class="num" transform="translate(555.65 469.00) scale(0.9757 1.0000)">2</text>
<text class="num" transform="translate(568.91 469.00) scale(0.9386 1.0000)">5</text>
<text class="num" transform="translate(580.50 469.00) scale(1.0809 0.8000)">,</text>
<text class="num" transform="translate(585.42 469.00) scale(0.9778 1.0000)">7</text>
<text class="num" transform="translate(238.47 544.70) scale(0.9837 1.0000)">4</text>
<text class="num" transform="translate(249.90 544.70) scale(1.0377 0.8000)">,</text>
<text class="num" transform="translate(254.56 544.70) scale(1.0272 1.0000)">9</text>
<text class="num" transform="translate(230.58 573.00) scale(0.8315 1.0000)">(</text>
<text class="num" transform="translate(238.09 573.00) scale(0.9385 1.0000)">2</text>
<text class="num" transform="translate(249.69 573.00) scale(0.9945 0.8000)">,</text>
<text class="num" transform="translate(255.87 573.00) scale(0.9833 1.0000)">5</text>
<text class="num" transform="translate(269.48 573.00) scale(0.8315 1.0000)">)</text>
<text class="num" transform="translate(487.56 738.70) scale(1.0005 1.0000)">4</text>
<text class="num" transform="translate(499.07 738.70) scale(0.9080 0.8000)">,</text>
<text class="num" transform="translate(504.95 738.70) scale(1.1435 1.0000)">0</text>
<text class="num" transform="translate(614.37 655.00) scale(0.9752 1.0000)">4</text>
<text class="num" transform="translate(625.88 655.00) scale(0.9512 0.8000)">,</text>
<text class="num" transform="translate(631.72 655.00) scale(0.9833 1.0000)">3</text>
<text class="num" transform="translate(637.54 782.10) scale(0.9850 1.0000)">2</text>
<text class="num" transform="translate(649.28 782.10) scale(0.9512 0.8000)">,</text>
<text class="num" transform="translate(654.87 782.10) scale(0.9837 1.0000)">4</text>
<text class="num" transform="translate(558.67 882.50) scale(0.9833 1.0000)">5</text>
<text class="num" transform="translate(570.69 882.50) scale(0.9945 0.8000)">,</text>
<text class="num" transform="translate(575.31 882.50) scale(1.0731 1.0000)">9</text>
<path class="one" d="M299.2 897.4L303.6 896.6M303.6 895V911.9"/>
<text class="num" transform="translate(305.63 912.00) scale(0.9685 1.0000)">7</text>
<text class="num" transform="translate(315.20 912.00) scale(1.0377 0.8000)">,</text>
<text class="num" transform="translate(321.16 912.00) scale(1.1347 1.0000)">0</text>
<g><text class="ttl" transform="translate(157.15 100.00) scale(1.0752 1.0000)">У</text><text class="ttl" transform="translate(190.96 100.00) scale(1.0716 0.9150)">л</text><text class="ttl" transform="translate(222.55 100.00) scale(1.0890 1.0000)">.</text><text class="ttl" transform="translate(237.41 100.00) scale(1.1494 1.0000)">З</text><text class="ttl" transform="translate(274.61 100.00) scale(1.2519 0.9150)">о</text><text class="ttl" transform="translate(309.72 100.00) scale(1.0270 0.9150)">л</text><text class="ttl" transform="translate(340.92 100.00) scale(1.2230 0.9150)">о</text><text class="ttl" transform="translate(376.45 100.00) scale(1.1256 0.9150)">т</text><text class="ttl" transform="translate(404.24 100.00) scale(1.1941 0.9150)">о</text><text class="ttl" transform="translate(439.41 100.00) scale(1.2148 0.9150)">р</text><text class="ttl" transform="translate(474.22 100.00) scale(1.2038 0.9150)">о</text><text class="ttl" transform="translate(509.77 100.00) scale(1.0659 0.9150)">ж</text><text class="ttl" transform="translate(548.45 100.00) scale(1.2100 0.9150)">с</text><text class="ttl" transform="translate(581.34 100.00) scale(1.3333 0.9150)">к</text><text class="ttl" transform="translate(614.23 100.00) scale(1.1905 0.9150)">и</text><text class="ttl" transform="translate(646.94 100.00) scale(1.1364 0.9150)">й</text><text class="ttl" transform="translate(695.09 100.00) scale(1.1608 0.9150)">в</text><text class="ttl" transform="translate(729.11 100.00) scale(0.9285 0.9150)">а</text><text class="ttl" transform="translate(759.71 100.00) scale(1.0716 0.9150)">л</text></g>
<g transform="rotate(-90)"><text class="ttl" transform="translate(-830.06 106.30) scale(1.0119 1.0000)">S</text><text class="ttl" transform="translate(-793.36 106.30) scale(1.1243 1.0000)">T</text><text class="ttl" transform="translate(-756.62 106.30) scale(1.1114 1.0000)">O</text><text class="ttl" transform="translate(-709.56 106.30) scale(1.1221 1.0000)">N</text><text class="ttl" transform="translate(-664.31 106.30) scale(0.9561 1.0000)">E</text><text class="ttl" transform="translate(-614.93 106.30) scale(1.0936 1.0000)">Р</text><text class="ttl" transform="translate(-575.36 106.30) scale(1.0823 0.9500)">и</text><text class="ttl" transform="translate(-540.64 106.30) scale(1.1570 0.9500)">м</text><text class="ttl" transform="translate(-497.37 106.30) scale(1.2416 0.9500)">с</text><text class="ttl" transform="translate(-462.99 106.30) scale(1.1515 0.9500)">к</text><text class="ttl" transform="translate(-433.39 106.30) scale(0.9285 0.9500)">а</text><text class="ttl" transform="translate(-399.26 106.30) scale(1.0308 0.9500)">я</text></g>
</g>
</svg>
</body></html>
